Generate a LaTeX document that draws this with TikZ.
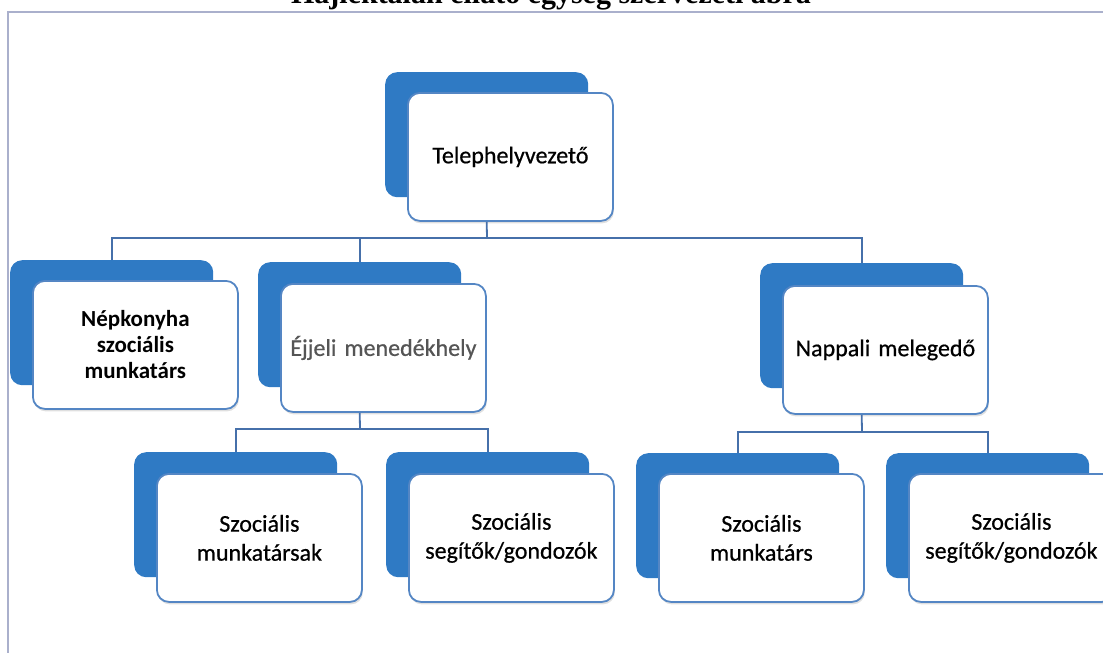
\documentclass[tikz,border=0pt]{standalone}
\usepackage{fontspec}
\setmainfont{Carlito}
\newfontfamily\boxfont{Carlito}[FakeBold=0.6]
\newfontfamily\titlefont{Liberation Serif}
\usetikzlibrary{shadows}
\definecolor{boxblue}{RGB}{47,122,196}
\definecolor{edgeblue}{RGB}{84,134,196}
\definecolor{linkblue}{RGB}{70,112,170}
\definecolor{framegray}{RGB}{170,176,204}
\definecolor{textgray}{RGB}{85,85,85}
\begin{document}
\begin{tikzpicture}[
    x=1pt, y=-1pt,
    backbox/.style={draw=none, fill=boxblue, rectangle, rounded corners=12pt,
                    minimum width=203pt, minimum height=125pt, anchor=north west,
                    inner sep=0pt},
    frontbox/.style={draw=edgeblue, line width=1.8pt, fill=white, rectangle,
                     rounded corners=12pt, minimum width=205pt, minimum height=128pt,
                     anchor=north west, inner sep=0pt, align=center,
                     text width=195pt, font=\boxfont\fontsize{24}{29}\selectfont,
                     drop shadow={shadow xshift=1pt, shadow yshift=-2.5pt,
                                  opacity=0.25}},
    link/.style={draw=linkblue, line width=1.8pt}
]
\useasboundingbox (0,0) rectangle (1103,653);
\clip (0,0) rectangle (1103,653);

% Cím (levágva)
\node[font=\titlefont\bfseries\fontsize{30}{34}\selectfont, anchor=base]
    (title) at (551,4) {Hajléktalan ellátó egység szervezeti ábra};

% Keret
\draw[framegray, line width=1.6pt] (1103,12) -- (8,12) -- (8,653);

% Telephelyvezető
\node[backbox]  (telB) at (385,72)  {};
\node[frontbox] (tel)  at (407,92)  {Telephelyvezető};

% Második szint
\node[backbox]  (nepB) at (10,260)  {};
\node[frontbox, font=\fontsize{23}{26}\selectfont\bfseries]
                (nep)  at (32,280)  {Népkonyha\\szociális\\munkatárs};
\node[backbox]  (ejB)  at (258,262) {};
\node[frontbox, text=textgray]
                (ej)   at (280,283) {Éjjeli menedékhely};
\node[backbox]  (napB) at (760,263) {};
\node[frontbox] (nap)  at (782,285) {Nappali melegedő};

% Harmadik szint
\node[backbox]  (sm1B) at (134,452) {};
\node[frontbox] (sm1)  at (156,473) {Szociális\\munkatársak};
\node[backbox]  (sg1B) at (386,452) {};
\node[frontbox] (sg1)  at (408,473) {Szociális\\segítők/gondozók};
\node[backbox]  (sm2B) at (636,453) {};
\node[frontbox] (sm2)  at (658,473) {Szociális\\munkatárs};
\node[backbox]  (sg2B) at (886,453) {};
\node[frontbox] (sg2)  at (908,473) {Szociális\\segítők/gondozók};

% Összekötők
\coordinate (bus1) at (487,238);
\coordinate (bus2) at (360,429);
\coordinate (bus3) at (862,432);

\draw[link] (telB |- tel.south) -- (bus1);
\draw[link] (nepB.north) |- (bus1) -| (napB.north);
\draw[link] (ejB |- bus1) -- (ejB.north);

\draw[link] (ejB |- ej.south) -- (bus2);
\draw[link] (sm1B.north) |- (bus2) -| (sg1B.north);

\draw[link] (napB |- nap.south) -- (bus3);
\draw[link] (sm2B.north) |- (bus3) -| (sg2B.north);

\end{tikzpicture}
\end{document}
